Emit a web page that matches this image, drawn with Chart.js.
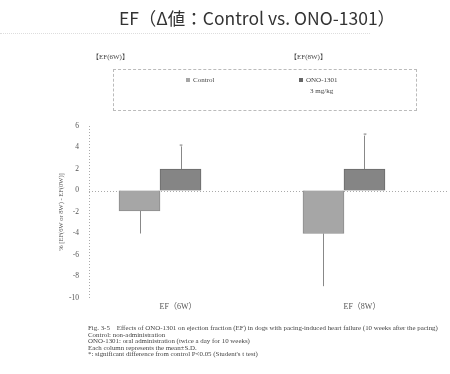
<!DOCTYPE html>
<html>
<head>
<meta charset="utf-8">
<script src="https://cdn.jsdelivr.net/npm/chart.js@4"></script>
<style>
  html, body { margin: 0; padding: 0; background: #fff; }
  #wrap { position: relative; width: 450px; height: 374px; overflow: hidden; }
  #chart { position: absolute; left: 0; top: 0; }
  .txt { position: absolute; white-space: nowrap; color: #444; font-family: "Liberation Serif", "Noto Sans CJK JP", serif; }
  #title { left: 0; width: 514px; top: 5px; text-align: center; font-family: "Noto Sans CJK JP", sans-serif; font-size: 17.5px; color: #333; }
  #rule { position: absolute; left: 0; top: 33px; width: 370px; border-top: 1px dotted #ddd; }
  .sub { font-size: 7px; top: 51px; }
  #legend { position: absolute; left: 113px; top: 69px; width: 302px; height: 40px; border: 1px dashed #bbb; }
  .leg { font-size: 7px; }
  .sw { display: inline-block; width: 4px; height: 4px; margin-right: 3px; vertical-align: 0; }
  #caption { left: 88px; top: 325px; font-size: 6.9px; line-height: 6.6px; color: #444; }
</style>
</head>
<body>
<div id="wrap">
  <canvas id="chart" width="450" height="374"></canvas>
  <div id="title" class="txt">EF（Δ値：Control vs. ONO-1301）</div>
  <div id="rule"></div>
  <div class="txt sub" style="left:92px">【EF(6W)】</div>
  <div class="txt sub" style="left:290px">【EF(8W)】</div>
  <div id="legend"></div>
  <div class="txt leg" style="left:186px; top:76px"><span class="sw" style="background:#a6a6a6"></span>Control</div>
  <div class="txt leg" style="left:299px; top:76px"><span class="sw" style="background:#666"></span>ONO-1301</div>
  <div class="txt leg" style="left:310px; top:87px">3 mg/kg</div>
  <div id="caption" class="txt">
    Fig. 3-5&nbsp;&nbsp;&nbsp; Effects of ONO-1301 on ejection fraction (EF) in dogs with pacing-induced heart failure (10 weeks after the pacing)<br>
    Control: non-administration<br>
    ONO-1301: oral administration (twice a day for 10 weeks)<br>
    Each column represents the mean±S.D.<br>
    *: significant difference from control P&lt;0.05 (Student's t test)
  </div>
</div>
<script>
// ---------- Data ----------
const categories = ["EF（6W）", "EF（8W）"];
const categoryPos = [0, 1];
const controlMean = [-1.9, -4.0];
const controlSD = [2.1, 4.9];
const onoMean = [2.0, 2.0];
const onoSD = [2.1, 3.1];
const onoSignificant = [true, true];
const yTicks = [6, 4, 2, 0, -2, -4, -6, -8, -10];

// error bars, zero line, dotted y axis, asterisks
const extras = {
  id: "extras",
  beforeDatasetsDraw(chart) {
    const { ctx, chartArea, scales } = chart;
    const y0 = scales.y.getPixelForValue(0);
    ctx.save();
    ctx.strokeStyle = "#aaa";
    ctx.lineWidth = 1;
    ctx.setLineDash([1, 2]);
    ctx.beginPath();
    ctx.moveTo(chartArea.left, Math.round(y0) + 0.5);
    ctx.lineTo(chartArea.right, Math.round(y0) + 0.5);
    ctx.moveTo(Math.round(chartArea.left) + 0.5, chartArea.top);
    ctx.lineTo(Math.round(chartArea.left) + 0.5, chartArea.bottom);
    ctx.stroke();
    ctx.restore();
  },
  afterDatasetsDraw(chart) {
    const { ctx, scales } = chart;
    ctx.save();
    ctx.strokeStyle = "#888";
    ctx.lineWidth = 1;
    const sets = [
      { meta: chart.getDatasetMeta(0), mean: controlMean, sd: controlSD },
      { meta: chart.getDatasetMeta(1), mean: onoMean, sd: onoSD },
    ];
    sets.forEach((s) => {
      s.meta.data.forEach((bar, i) => {
        const dir = s.mean[i] < 0 ? -1 : 1;
        const yA = scales.y.getPixelForValue(s.mean[i]);
        const yB = scales.y.getPixelForValue(s.mean[i] + dir * s.sd[i]);
        const x = Math.round(bar.x) + 0.5;
        ctx.beginPath();
        ctx.moveTo(x, yA);
        ctx.lineTo(x, yB);
        ctx.stroke();
      });
    });
    ctx.fillStyle = "#666";
    ctx.font = "7px 'Liberation Serif'";
    ctx.textAlign = "center";
    ctx.textBaseline = "bottom";
    chart.getDatasetMeta(1).data.forEach((bar, i) => {
      if (!onoSignificant[i]) return;
      const yB = scales.y.getPixelForValue(onoMean[i] + onoSD[i]);
      ctx.fillText("*", bar.x + 0.5, yB + 3);
    });
    ctx.restore();
  },
};

new Chart(document.getElementById("chart"), {
  type: "bar",
  data: {
    datasets: [
      {
        label: "Control",
        data: categoryPos.map((x, i) => ({ x, y: controlMean[i] })),
        backgroundColor: "#a6a6a6",
        borderColor: "#8c8c8c",
        borderWidth: 1,
      },
      {
        label: "ONO-1301",
        data: categoryPos.map((x, i) => ({ x, y: onoMean[i] })),
        backgroundColor: "#858585",
        borderColor: "#6a6a6a",
        borderWidth: 1,
      },
    ],
  },
  options: {
    responsive: false,
    animation: false,
    barThickness: 41,
    layout: { padding: { left: 55, top: 126, right: 3, bottom: 56 } },
    plugins: { legend: { display: false }, tooltip: { enabled: false } },
    scales: {
      x: {
        type: "linear",
        offset: false,
        min: -0.386,
        max: 1.56,
        afterBuildTicks: (s) => { s.ticks = categoryPos.map((v) => ({ value: v })); },
        afterFit: (s) => { s.height = 20; },
        grid: { display: false, drawTicks: false, offset: false },
        border: { display: false },
        ticks: {
          callback: (v) => categories[v],
          labelOffset: 18,
          padding: 4,
          maxRotation: 0,
          color: "#555",
          font: { family: "'Liberation Serif', 'Noto Sans CJK JP'", size: 8 },
        },
      },
      y: {
        min: -10,
        max: 6,
        afterBuildTicks: (s) => { s.ticks = yTicks.map((v) => ({ value: v })); },
        afterFit: (s) => { s.width = 34; },
        grid: { display: false, drawTicks: false },
        border: { display: false },
        title: {
          display: true,
          text: "% [EF(6W or 8W) - EF(0W)]",
          color: "#555",
          font: { family: "'Liberation Serif'", size: 6.5 },
          padding: { top: 2, bottom: 0 },
        },
        ticks: {
          padding: 10,
          color: "#555",
          font: { family: "'Liberation Serif'", size: 7.5 },
        },
      },
    },
  },
  plugins: [extras],
});
</script>
</body>
</html>
